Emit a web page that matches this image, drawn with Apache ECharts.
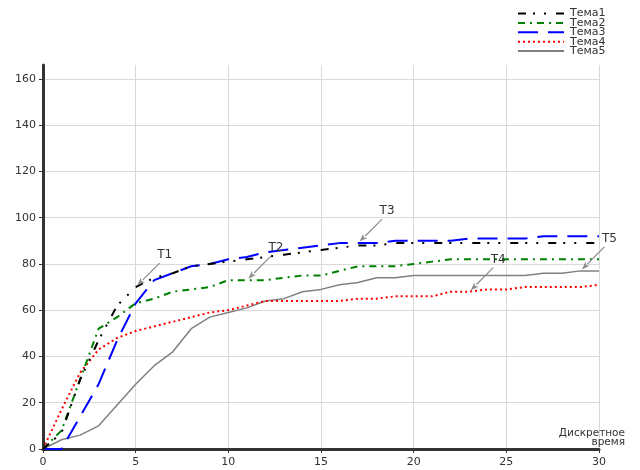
<!DOCTYPE html>
<html>
<head>
<meta charset="utf-8">
<script src="https://cdn.jsdelivr.net/npm/echarts@6/dist/echarts.min.js"></script>
<style>
  html, body { margin: 0; padding: 0; background: #fff; }
  #chart { width: 640px; height: 470px; }
</style>
</head>
<body>
<div id="chart"></div>
<script>
// Discrete time steps 0..30
const timeSteps = [0,1,2,3,4,5,6,7,8,9,10,11,12,13,14,15,16,17,18,19,20,21,22,23,24,25,26,27,28,29,30];

const seriesNames = ['Тема1', 'Тема2', 'Тема3', 'Тема4', 'Тема5'];

const tema1 = [0,7,30,47,62,70,74,76,79,80,81,82,83,84,85,86,87,88,88,89,89,89,89,89,89,89,89,89,89,89,89];
const tema2 = [0,8,30,52,57,63,65,68,69,70,73,73,73,74,75,75,77,79,79,79,80,81,82,82,82,82,82,82,82,82,82];
const tema3 = [0,0,14,28,47,63,73,76,79,80,82,83,85,86,87,88,89,89,89,90,90,90,90,91,91,91,91,92,92,92,92];
const tema4 = [0,17,33,43,48,51,53,55,57,59,60,62,64,64,64,64,64,65,65,66,66,66,68,68,69,69,70,70,70,70,71];
const tema5 = [0,4,6,10,19,28,36,42,52,57,59,61,64,65,68,69,71,72,74,74,75,75,75,75,75,75,75,76,76,77,77];

const yTicks = [0, 20, 40, 60, 80, 100, 120, 140, 160];
const xTicks = [0, 5, 10, 15, 20, 25, 30];

// Callout labels: which series and which time step each one points at
const annoLabels = ['T1', 'T2', 'T3', 'T4', 'T5'];
const annoSeries = [0, 1, 2, 3, 4];
const annoTime = [5, 11, 17, 23, 29];

const allValues = [tema1, tema2, tema3, tema4, tema5];
const colors = ['#000000', '#008000', '#0000ff', '#ff0000', '#808080'];
const dashes = [[8, 7, 2, 9, 2, 10], [7, 5, 2, 5], [20, 10], [2, 3], 'solid'];
const widths = [2, 2, 2, 2, 1.5];

const FONT = 'DejaVu Sans';

const chart = echarts.init(document.getElementById('chart'), null, { renderer: 'canvas' });

const series = seriesNames.map((name, i) => ({
  name: name,
  type: 'line',
  symbol: 'none',
  showSymbol: false,
  data: timeSteps.map((t, k) => [t, allValues[i][k]]),
  lineStyle: { color: colors[i], width: widths[i], type: dashes[i] },
  itemStyle: { color: colors[i] },
  z: 10 - i
}));

chart.setOption({
  animation: false,
  backgroundColor: '#ffffff',
  grid: { left: 43, right: 41, top: 65, bottom: 21, containLabel: false },
  legend: {
    orient: 'vertical',
    left: 512,
    top: 3,
    itemWidth: 46,
    itemHeight: 9,
    itemGap: -1.6,
    itemStyle: { color: 'transparent', borderWidth: 0, opacity: 0 },
    textStyle: { fontFamily: FONT, fontSize: 11, color: '#333', lineHeight: 9, padding: [0, 0, 0, 1] },
    data: seriesNames
  },
  xAxis: {
    type: 'value',
    min: xTicks[0],
    max: xTicks[xTicks.length - 1],
    interval: 5,
    axisLine: { show: true, lineStyle: { color: '#333', width: 3 } },
    axisTick: { show: true, length: 4, lineStyle: { color: '#333', width: 1 } },
    axisLabel: { fontFamily: FONT, fontSize: 11, color: '#333', margin: 8 },
    splitLine: { show: true, lineStyle: { color: '#d9d9d9', width: 1 } }
  },
  yAxis: {
    type: 'value',
    min: yTicks[0],
    max: 166,
    interval: 20,
    axisLine: { show: true, lineStyle: { color: '#333', width: 3 } },
    axisTick: { show: true, length: 4, lineStyle: { color: '#333', width: 1 } },
    axisLabel: { fontFamily: FONT, fontSize: 11, color: '#333', margin: 7, showMaxLabel: false },
    splitLine: { show: true, showMaxLine: false, lineStyle: { color: '#d9d9d9', width: 1 } }
  },
  series: series
});

// Axis title and callout arrows, placed through the grid's own coordinate mapping
const graphics = [];
const origin = chart.convertToPixel({ gridIndex: 0 }, [xTicks[xTicks.length - 1], 0]);
graphics.push({
  type: 'text',
  x: origin[0] + 26,
  y: origin[1] - 20,
  style: {
    text: 'Дискретное\nвремя',
    align: 'right',
    verticalAlign: 'top',
    fontFamily: FONT,
    fontSize: 10.5,
    lineHeight: 9,
    fill: '#333'
  },
  z: 50
});

annoLabels.forEach((label, i) => {
  const t = annoTime[i];
  const v = allValues[annoSeries[i]][timeSteps.indexOf(t)];
  const p = chart.convertToPixel({ gridIndex: 0 }, [t, v]);
  const sx = p[0] + 24, sy = p[1] - 24;
  const tx = p[0] + 1.5, ty = p[1] - 1.5;
  // arrowhead
  const ang = Math.atan2(ty - sy, tx - sx);
  const L = 8, W = 3;
  const bx = tx - L * Math.cos(ang), by = ty - L * Math.sin(ang);
  const nx = -Math.sin(ang) * W, ny = Math.cos(ang) * W;
  graphics.push({
    type: 'line',
    shape: { x1: sx, y1: sy, x2: bx, y2: by },
    style: { stroke: '#8c8c8c', lineWidth: 1.2 },
    z: 50
  });
  graphics.push({
    type: 'polygon',
    shape: { points: [[tx, ty], [bx + nx, by + ny], [bx + 2 * Math.cos(ang), by + 2 * Math.sin(ang)], [bx - nx, by - ny]] },
    style: { fill: '#8c8c8c' },
    z: 50
  });
  graphics.push({
    type: 'text',
    x: sx + 5,
    y: sy - 8,
    style: {
      text: label,
      align: 'center',
      verticalAlign: 'middle',
      fontFamily: FONT,
      fontSize: 12,
      fill: '#333'
    },
    z: 50
  });
});

chart.setOption({ graphic: graphics });
</script>
</body>
</html>
